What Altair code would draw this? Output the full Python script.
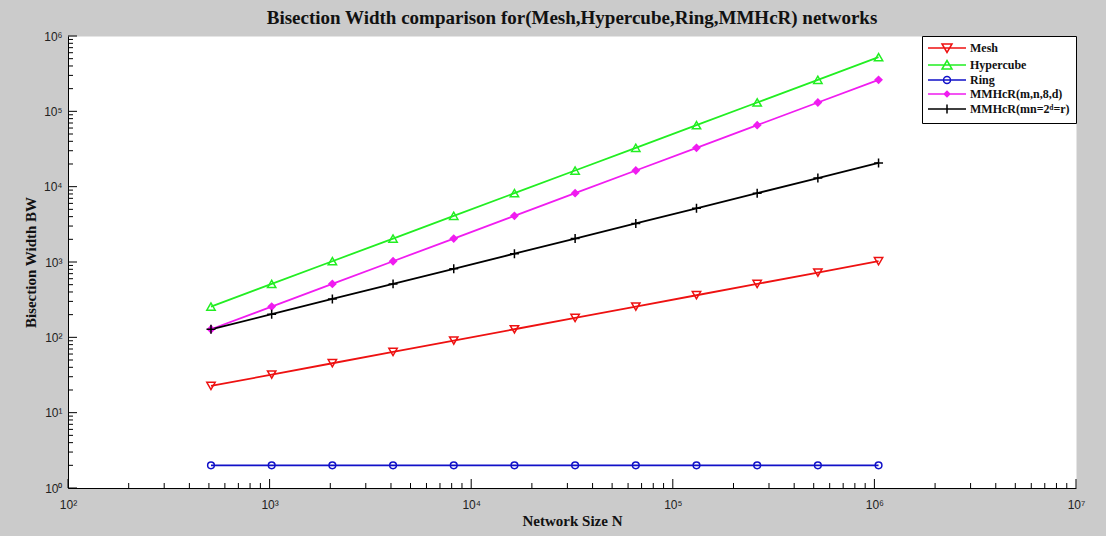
import altair as alt
import pandas as pd

# ---------------- data ----------------
N = [512, 1024, 2048, 4096, 8192, 16384, 32768, 65536, 131072, 262144, 524288, 1048576]
mesh = [22.6, 32, 45.3, 64, 90.5, 128, 181, 256, 362, 512, 724, 1024]
hypercube = [256, 512, 1024, 2048, 4096, 8192, 16384, 32768, 65536, 131072, 262144, 524288]
ring = [2, 2, 2, 2, 2, 2, 2, 2, 2, 2, 2, 2]
mmhcr_a = [128, 256, 512, 1024, 2048, 4096, 8192, 16384, 32768, 65536, 131072, 262144]
mmhcr_b = [128, 203, 323, 512, 813, 1290, 2048, 3251, 5161, 8192, 13004, 20643]

series_names = ["Mesh", "Hypercube", "Ring", "MMHcR(m,n,8,d)", "MMHcR(mn=2ᵈ=r)"]
series_values = [mesh, hypercube, ring, mmhcr_a, mmhcr_b]

x_major = [1e2, 1e3, 1e4, 1e5, 1e6, 1e7]
x_minor = [k * 10 ** d for d in range(2, 7) for k in range(2, 10)]
y_major = [1e0, 1e1, 1e2, 1e3, 1e4, 1e5, 1e6]
y_minor = [k * 10 ** d for d in range(0, 6) for k in range(2, 10)]

# ---------------- styles ----------------
colors = ["#EE1111", "#22EE22", "#1111C8", "#F01CF0", "#000000"]
fills = ["transparent", "transparent", "transparent", "#F01CF0", "transparent"]
point_shapes = ["triangle-down", "triangle-up", "circle", "diamond", "M-1,0H1M0,-1V1"]
point_sizes = [70, 70, 45, 45, 80]
legend_shapes = [
    "M-3.8,0H3.8M-1,-0.8L1,-0.8L0,0.9Z",
    "M-3.8,0H3.8M-1,0.8L1,0.8L0,-0.9Z",
    "M-3.8,0H3.8M-0.7,0A0.7,0.7 0 1,0 0.7,0A0.7,0.7 0 1,0 -0.7,0Z",
    "M-3.8,0H3.8M-0.55,0L0,-0.55L0.55,0L0,0.55Z",
    "M-3.8,0H3.8M0,-0.9V0.9",
]

rows = []
for name, vals in zip(series_names, series_values):
    for n, v in zip(N, vals):
        rows.append({"series": name, "N": n, "BW": v})
df = pd.DataFrame(rows)

W, H = 1008, 452
x_scale = alt.Scale(type="log", domain=[100, 1e7], nice=False)
y_scale = alt.Scale(type="log", domain=[1, 1e6], nice=False)

sup = "'10' + ['⁰','¹','²','³','⁴','⁵','⁶','⁷'][round(log(datum.value)/LN10)]"

x_axis = alt.Axis(values=x_major, ticks=False, grid=False, domainColor="black", domainWidth=1,
                  labelExpr=sup, labelFont="Liberation Sans", labelFontSize=12, labelColor="#222222",
                  labelPadding=11, labelFlush=False, labelOverlap=False,
                  title="Network Size N", titleFont="Liberation Serif", titleFontSize=15,
                  titleFontWeight="bold", titleColor="#111111", titlePadding=3)
y_axis = alt.Axis(values=y_major, ticks=False, grid=False, domainColor="black", domainWidth=1,
                  labelExpr=sup, labelFont="Liberation Sans", labelFontSize=12, labelColor="#222222",
                  labelPadding=6, labelFlush=False, labelOverlap=False,
                  title="Bisection Width BW", titleFont="Liberation Serif", titleFontSize=15,
                  titleFontWeight="bold", titleColor="#111111", titlePadding=5)

stroke_scale = alt.Scale(domain=series_names, range=colors)

lines = alt.Chart(df).mark_line(strokeWidth=1.8).encode(
    x=alt.X("N:Q", scale=x_scale, axis=x_axis),
    y=alt.Y("BW:Q", scale=y_scale, axis=y_axis),
    stroke=alt.Stroke("series:N", scale=stroke_scale, legend=None),
)

points = alt.Chart(df).mark_point(strokeWidth=1.5, opacity=1).encode(
    x=alt.X("N:Q", scale=x_scale, axis=x_axis),
    y=alt.Y("BW:Q", scale=y_scale, axis=y_axis),
    stroke=alt.Stroke("series:N", scale=stroke_scale, legend=None),
    fill=alt.Fill("series:N", scale=alt.Scale(domain=series_names, range=fills), legend=None),
    shape=alt.Shape("series:N", scale=alt.Scale(domain=series_names, range=point_shapes), legend=None),
    size=alt.Size("series:N", scale=alt.Scale(type="ordinal", domain=series_names, range=point_sizes), legend=None),
)

leg = alt.Legend(title=None, orient="top-right", offset=0, padding=6, fillColor="white",
                 strokeColor="black", cornerRadius=0, symbolSize=100, symbolStrokeWidth=1.5,
                 labelFont="Liberation Serif", labelFontSize=12, labelFontWeight="bold",
                 labelColor="#111111", rowPadding=1, symbolOffset=13, labelOffset=17)

legend_layer = alt.Chart(df).transform_filter("datum.BW < 0").mark_point(strokeWidth=1.5, opacity=1).encode(
    x=alt.X("N:Q", scale=x_scale, axis=x_axis),
    y=alt.Y("BW:Q", scale=y_scale, axis=y_axis),
    stroke=alt.Stroke("series:N", scale=alt.Scale(domain=series_names, range=colors), legend=leg),
    fill=alt.Fill("series:N", scale=alt.Scale(domain=series_names, range=fills), legend=leg),
    shape=alt.Shape("series:N", scale=alt.Scale(domain=series_names, range=legend_shapes), legend=leg),
)

def xticks(vals, length):
    return alt.Chart(pd.DataFrame({"N": vals})).mark_rule(color="black", strokeWidth=1).encode(
        x=alt.X("N:Q", scale=x_scale, axis=x_axis), y=alt.value(H), y2=alt.value(H - length))

def yticks(vals, length):
    return alt.Chart(pd.DataFrame({"BW": vals})).mark_rule(color="black", strokeWidth=1).encode(
        y=alt.Y("BW:Q", scale=y_scale, axis=y_axis), x=alt.value(0), x2=alt.value(length))

chart = alt.layer(
    lines, points,
    xticks(x_major, 9), xticks(x_minor, 5), yticks(y_major, 9), yticks(y_minor, 5),
    legend_layer,
).resolve_scale(
    stroke="independent", fill="independent", shape="independent", size="independent"
).properties(
    width=W, height=H,
    title=alt.TitleParams("Bisection Width comparison for(Mesh,Hypercube,Ring,MMHcR) networks",
                          font="Liberation Serif", fontSize=19, fontWeight="bold", color="#111111",
                          anchor="middle", offset=2),
    autosize=alt.AutoSizeParams(type="none"),
    padding={"left": 68, "top": 36, "right": 30, "bottom": 48},
).configure(background="#CBCBCB").configure_view(fill="white", stroke="transparent")

chart.save("out.html", embed_options={"renderer": "svg", "actions": False})
